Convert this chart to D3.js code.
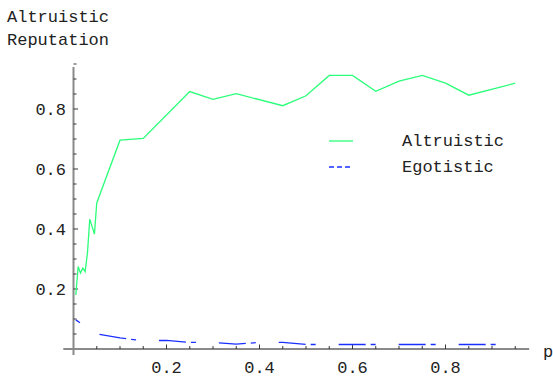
<!DOCTYPE html>
<html>
<head>
<meta charset="utf-8">
<script src="https://cdn.jsdelivr.net/npm/d3@7"></script>
<style>
html,body{margin:0;padding:0;background:#fff;}
svg{display:block;}
text{font-family:"Liberation Mono","Courier New",monospace;fill:#222;}
</style>
</head>
<body>
<svg id="chart" width="553" height="378"></svg>
<script>
// ---- data ----
const altruisticX = [0.005,0.01,0.015,0.02,0.025,0.03,0.035,0.045,0.05,0.1,0.15,0.25,0.3,0.35,0.45,0.5,0.55,0.6,0.65,0.7,0.75,0.8,0.85,0.95];
const altruisticY = [0.18,0.275,0.253,0.27,0.258,0.32,0.433,0.383,0.487,0.696,0.702,0.858,0.832,0.851,0.811,0.844,0.912,0.912,0.859,0.893,0.912,0.886,0.846,0.886];
const egotisticX = [0.005,0.05,0.1,0.15,0.2,0.25,0.3,0.35,0.4,0.45,0.5,0.55,0.6,0.65,0.7,0.75,0.8,0.85,0.9,0.95];
const egotisticY = [0.097,0.05,0.037,0.027,0.029,0.022,0.022,0.016,0.022,0.022,0.015,0.015,0.015,0.015,0.015,0.015,0.015,0.015,0.015,0.015];
const xTicks = [0.2,0.4,0.6,0.8];
const yTicks = [0.2,0.4,0.6,0.8];
const xMinor = d3.range(1,20).map(i=>i*0.05);
const yMinor = d3.range(1,20).map(i=>i*0.05);
const titleLines = ["Altruistic","Reputation"];
const legendNames = ["Altruistic","Egotistic"];
const colors = ["#2bff7a","#1a30ff"];

const svg = d3.select("#chart");
const x = d3.scaleLinear().domain([0,1]).range([73.5,538.5]);
const y = d3.scaleLinear().domain([0,1]).range([349,49]);

// axes lines
svg.append("line").attr("x1",x(-0.022)).attr("x2",x(0.98)).attr("y1",y(0)).attr("y2",y(0))
  .attr("stroke","#8a8a8a").attr("stroke-width",2);
svg.append("line").attr("x1",x(0)).attr("x2",x(0)).attr("y1",y(-0.02)).attr("y2",y(0.94+0.0))
  .attr("stroke","#8a8a8a").attr("stroke-width",2);

// minor/major ticks
xMinor.filter(v=>v<0.98).forEach(v=>{
  const major = xTicks.some(t=>Math.abs(t-v)<1e-6);
  svg.append("line").attr("x1",x(v)).attr("x2",x(v)).attr("y1",y(0)).attr("y2",y(0)-(major?4.5:3))
    .attr("stroke","#222").attr("stroke-width",0.9);
});
yMinor.filter(v=>v<0.99).forEach(v=>{
  const major = yTicks.some(t=>Math.abs(t-v)<1e-6);
  svg.append("line").attr("x1",x(0)).attr("x2",x(0)+(major?4.5:3)).attr("y1",y(v)).attr("y2",y(v))
    .attr("stroke","#222").attr("stroke-width",0.9);
});
// extend y axis top per reference
svg.select("line:nth-child(2)").attr("y2", 67);

// tick labels
svg.selectAll(".xl").data(xTicks).enter().append("text")
  .attr("x",d=>x(d)).attr("y",373).attr("text-anchor","middle").attr("font-size",17)
  .text(d=>d3.format(".1f")(d));
svg.selectAll(".yl").data(yTicks).enter().append("text")
  .attr("x",66).attr("y",d=>y(d)+6).attr("text-anchor","end").attr("font-size",17)
  .text(d=>d3.format(".1f")(d));

// axis labels
svg.append("text").attr("x",543).attr("y",357).attr("font-size",17).text("p");
titleLines.forEach((t,i)=>svg.append("text").attr("x",7).attr("y",22+i*23).attr("font-size",17).text(t));

// lines
const line = d3.line().x(d=>x(d[0])).y(d=>y(d[1]));
svg.append("path").datum(altruisticX.map((v,i)=>[v,altruisticY[i]]))
  .attr("d",line).attr("fill","none").attr("stroke",colors[0]).attr("stroke-width",1.3);
svg.append("path").datum(egotisticX.map((v,i)=>[v,egotisticY[i]]))
  .attr("d",line).attr("fill","none").attr("stroke",colors[1]).attr("stroke-width",1.3)
  .attr("stroke-dasharray","5,23,27,5");

// legend
const lg = svg.append("g");
legendNames.forEach((n,i)=>{
  const ly = 141 + i*26;
  lg.append("line").attr("x1",329).attr("x2",353).attr("y1",ly).attr("y2",ly)
    .attr("stroke",colors[i]).attr("stroke-width",1.3)
    .attr("stroke-dasharray", i===1 ? "5,3" : null);
  lg.append("text").attr("x",402).attr("y",ly+4.5).attr("font-size",17).text(n);
});
</script>
</body>
</html>
